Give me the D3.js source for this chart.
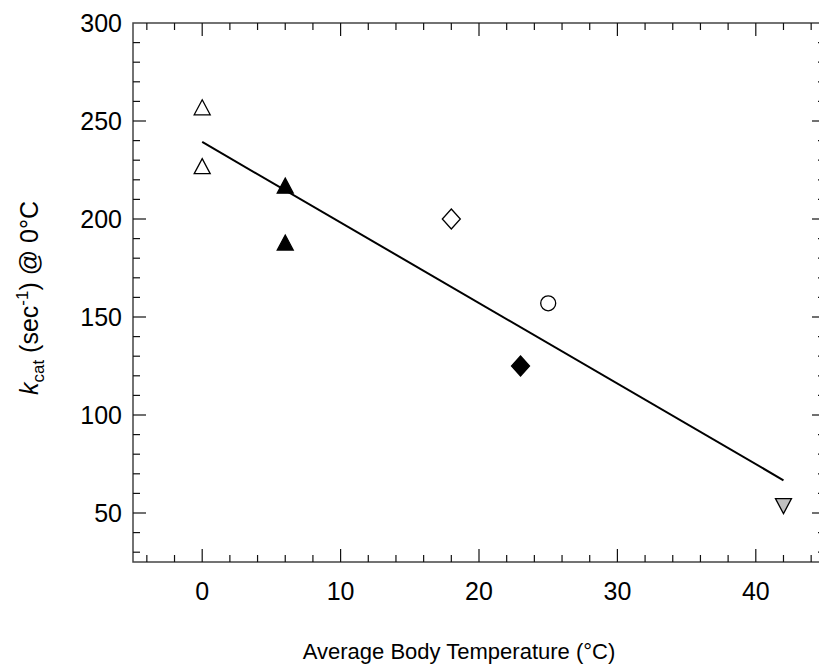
<!DOCTYPE html>
<html>
<head>
<meta charset="utf-8">
<script src="https://cdn.jsdelivr.net/npm/d3@7"></script>
<style>
  body { margin: 0; background: #fff; }
  text { font-family: "Liberation Sans", Arial, sans-serif; fill: #000; }
</style>
</head>
<body>
<script>
// data
const tempC = [0, 0, 6, 6, 18, 25, 23, 42];
const kcat = [257, 227, 217, 188, 200, 157, 125, 54];
const markers = ["openTri", "openTri", "fillTri", "fillTri", "openDiamond", "openCircle", "fillDiamond", "grayTriDown"];
const fitX = [0, 42];
const fitY = [239.3, 66.7];
const xMajor = [0, 10, 20, 30, 40];
const yMajor = [50, 100, 150, 200, 250, 300];

const width = 819, height = 669;
const plotL = 133, plotR = 825, plotT = 23, plotB = 562;

const svg = d3.select("body").append("svg")
    .attr("width", width)
    .attr("height", height);

const x = d3.scaleLinear().domain([-5, 45]).range([plotL, plotR]);
const y = d3.scaleLinear().domain([25, 300]).range([plotB, plotT]);

const xMinor = d3.range(-4, 45, 2).filter(v => v % 10 !== 0);
const yMinor = d3.range(30, 300, 10).filter(v => v % 50 !== 0);

// frame
const axisColor = "#444";
svg.append("rect")
    .attr("x", plotL).attr("y", plotT)
    .attr("width", plotR - plotL).attr("height", plotB - plotT)
    .attr("fill", "none").attr("stroke", axisColor).attr("stroke-width", 1.5);

// ticks, all pointing inward
const tickG = svg.append("g").attr("stroke", "#111").attr("stroke-width", 1.2);
function xTicks(vals, len) {
    vals.forEach(v => {
        tickG.append("line").attr("x1", x(v)).attr("x2", x(v)).attr("y1", plotB).attr("y2", plotB - len);
        tickG.append("line").attr("x1", x(v)).attr("x2", x(v)).attr("y1", plotT).attr("y2", plotT + len);
    });
}
function yTicks(vals, len) {
    vals.forEach(v => {
        tickG.append("line").attr("y1", y(v)).attr("y2", y(v)).attr("x1", plotL).attr("x2", plotL + len);
        tickG.append("line").attr("y1", y(v)).attr("y2", y(v)).attr("x1", plotR).attr("x2", plotR - len);
    });
}
xTicks(xMajor, 13); xTicks(xMinor, 7);
yTicks(yMajor.filter(v => v < 300), 13); yTicks(yMinor, 7);

// tick labels
svg.append("g").selectAll("text").data(xMajor).join("text")
    .attr("x", d => x(d)).attr("y", 600)
    .attr("text-anchor", "middle").attr("font-size", 25)
    .text(d => d);
svg.append("g").selectAll("text").data(yMajor).join("text")
    .attr("x", 122).attr("y", d => y(d))
    .attr("dy", "0.36em")
    .attr("text-anchor", "end").attr("font-size", 25)
    .text(d => d);

// axis titles
svg.append("text")
    .attr("x", 459).attr("y", 659)
    .attr("text-anchor", "middle").attr("font-size", 22)
    .text("Average Body Temperature (\u00B0C)");

const yt = svg.append("text")
    .attr("transform", "translate(38,298) rotate(-90)")
    .attr("text-anchor", "middle").attr("font-size", 25);
yt.append("tspan").attr("font-style", "italic").text("k");
yt.append("tspan").attr("font-size", 17).attr("dy", 6).text("cat");
yt.append("tspan").attr("dy", -6).text(" (sec");
yt.append("tspan").attr("font-size", 17).attr("dy", -10).text("-1");
yt.append("tspan").attr("dy", 10).text(") @ 0\u00B0C");

// fitted line
svg.append("line")
    .attr("x1", x(fitX[0])).attr("y1", y(fitY[0]))
    .attr("x2", x(fitX[1])).attr("y2", y(fitY[1]))
    .attr("stroke", "#000").attr("stroke-width", 2);

// marker shapes
function shapePath(type) {
    const w = 8, h = 7.5;
    if (type === "openTri" || type === "fillTri") return `M0,${-h}L${w},${h}L${-w},${h}Z`;
    if (type === "grayTriDown") return `M0,${h + 1}L${w},${-h + 1}L${-w},${-h + 1}Z`;
    if (type === "openDiamond" || type === "fillDiamond") return "M0,-10L9,0L0,10L-9,0Z";
    return null;
}
const pts = svg.append("g");
tempC.forEach((t, i) => {
    const m = markers[i];
    const fill = m.startsWith("fill") ? "#000" : (m === "grayTriDown" ? "#c0c0c0" : "#fff");
    let el;
    if (m === "openCircle") {
        el = pts.append("circle").attr("r", 7.5).attr("cx", x(t)).attr("cy", y(kcat[i]));
    } else {
        el = pts.append("path").attr("d", shapePath(m))
            .attr("transform", `translate(${x(t)},${y(kcat[i])})`);
    }
    el.attr("fill", fill).attr("stroke", "#000").attr("stroke-width", 1.3);
});
</script>
</body>
</html>
